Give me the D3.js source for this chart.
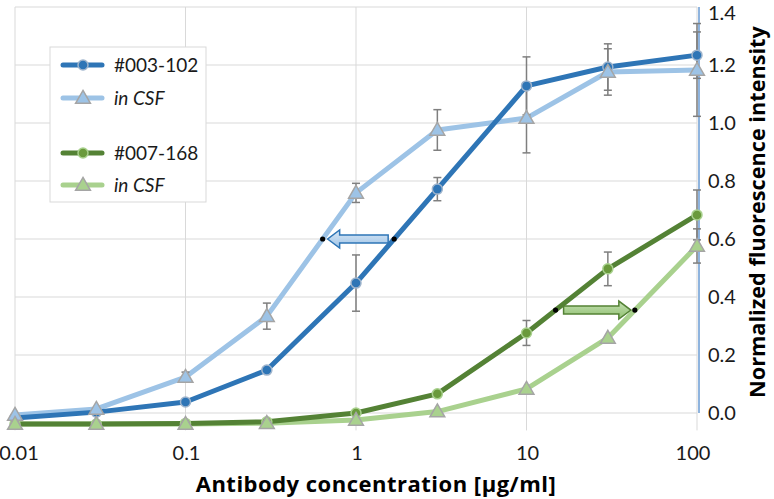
<!DOCTYPE html>
<html><head><meta charset="utf-8">
<script src="https://cdn.jsdelivr.net/npm/d3@7"></script>
<style>html,body{margin:0;padding:0;background:#fff;}svg{display:block;}</style>
</head><body><svg id="chart" width="774" height="499"></svg>
<script>
// ---- data ----
const concentrations = [0.01, 0.03, 0.1, 0.3, 1, 3, 10, 30, 100];
const ab003 = [-0.017, 0.003, 0.038, 0.148, 0.448, 0.772, 1.128, 1.193, 1.234];
const ab003Err = [0, 0, 0, 0, 0.097, 0.04, 0.1, 0.08, 0.08];
const ab003Csf = [-0.007, 0.014, 0.124, 0.334, 0.759, 0.976, 1.017, 1.176, 1.183];
const ab003CsfErr = [0, 0, 0.017, 0.045, 0.033, 0.07, 0.12, 0.08, 0.16];
const ab007 = [-0.038, -0.038, -0.036, -0.03, 0.0, 0.066, 0.276, 0.497, 0.683];
const ab007Err = [0, 0, 0, 0, 0, 0, 0.043, 0.058, 0.086];
const ab007Csf = [-0.038, -0.038, -0.038, -0.035, -0.024, 0.005, 0.083, 0.259, 0.576];
const ab007CsfErr = [0, 0, 0, 0, 0, 0, 0, 0, 0.059];
const seriesNames = ["#003-102", "in CSF", "#007-168", "in CSF"];
const xTicks = [0.01, 0.1, 1, 10, 100];
const xTickLabels = ["0.01", "0.1", "1", "10", "100"];
const yTicks = [0, 0.2, 0.4, 0.6, 0.8, 1.0, 1.2, 1.4];
const yTickLabels = ["0.0", "0.2", "0.4", "0.6", "0.8", "1.0", "1.2", "1.4"];
const halfLevels = [0.6, 0.355];
const xTitle = "Antibody concentration [µg/ml]";
const yTitle = "Normalized fluorescence intensity";

// ---- layout ----
const svg = d3.select("#chart");
const FONT = "Lato, 'Open Sans', sans-serif";
const TFONT = "'Open Sans', Lato, sans-serif";
const x = d3.scaleLog().domain([0.01, 100]).range([15, 697]);
const y = d3.scaleLinear().domain([0, 1.4]).range([413, 7]);
const yBottom = y(-0.06);

const series = [
  {name: seriesNames[1], vals: ab003Csf, err: ab003CsfErr, line: "#9dc3e6", fill: "#9dc3e6", stroke: "#a5a5a5", shape: "tri"},
  {name: seriesNames[0], vals: ab003, err: ab003Err, line: "#2e75b6", fill: "#2e75b6", stroke: "#9fb4cc", shape: "circ"},
  {name: seriesNames[3], vals: ab007Csf, err: ab007CsfErr, line: "#a9d18e", fill: "#a9d18e", stroke: "#a5a5a5", shape: "tri"},
  {name: seriesNames[2], vals: ab007, err: ab007Err, line: "#548235", fill: "#6a9a3c", stroke: "#a9d18e", shape: "circ"}
];

// gridlines
const grid = svg.append("g");
grid.selectAll("line.h").data(yTicks).join("line")
  .attr("x1", x(0.01)).attr("x2", x(100))
  .attr("y1", d => y(d)).attr("y2", d => y(d))
  .attr("stroke", "#d9d9d9").attr("stroke-width", 1);
grid.selectAll("line.v").data(xTicks).join("line")
  .attr("x1", d => x(d)).attr("x2", d => x(d))
  .attr("y1", y(1.4)).attr("y2", yBottom)
  .attr("stroke", "#d9d9d9").attr("stroke-width", 1);

// right axis line
svg.append("line").attr("x1", x(100) + 2).attr("x2", x(100) + 2)
  .attr("y1", y(1.4)).attr("y2", y(0))
  .attr("stroke", "#6a9bd3").attr("stroke-width", 1.5);

// lines
const lineGen = d3.line().x((d, i) => x(concentrations[i])).y(d => y(d));
const gLines = svg.append("g");
series.forEach(s => {
  gLines.append("path").attr("d", lineGen(s.vals)).attr("fill", "none")
    .attr("stroke", s.line).attr("stroke-width", 5).attr("stroke-linejoin", "round").attr("stroke-linecap", "round");
});

// error bars
const gErr = svg.append("g").attr("stroke", "#7f7f7f").attr("stroke-width", 1.5);
series.forEach(s => {
  s.vals.forEach((v, i) => {
    const e = s.err[i];
    if (!e) return;
    const cx = x(concentrations[i]);
    gErr.append("line").attr("x1", cx).attr("x2", cx).attr("y1", y(v + e)).attr("y2", y(v - e));
    gErr.append("line").attr("x1", cx - 4).attr("x2", cx + 4).attr("y1", y(v + e)).attr("y2", y(v + e));
    gErr.append("line").attr("x1", cx - 4).attr("x2", cx + 4).attr("y1", y(v - e)).attr("y2", y(v - e));
  });
});

// markers
const triPath = d3.symbol().type(d3.symbolTriangle).size(95)();
function drawMarker(g, s, cx, cy) {
  if (s.shape === "circ") {
    g.append("circle").attr("cx", cx).attr("cy", cy).attr("r", 5)
      .attr("fill", s.fill).attr("stroke", s.stroke).attr("stroke-width", 1.5);
  } else {
    g.append("path").attr("d", triPath).attr("transform", `translate(${cx},${cy + 1})`)
      .attr("fill", s.fill).attr("stroke", s.stroke).attr("stroke-width", 1.5);
  }
}
const gMark = svg.append("g");
[series[1], series[3], series[0], series[2]].forEach(s => {
  s.vals.forEach((v, i) => drawMarker(gMark, s, x(concentrations[i]), y(v)));
});

// crossing helper (log-x interpolation)
function crossX(vals, level) {
  for (let i = 0; i < vals.length - 1; i++) {
    const a = vals[i], b = vals[i + 1];
    if ((a - level) * (b - level) <= 0 && a !== b) {
      const t = (level - a) / (b - a);
      const la = Math.log10(concentrations[i]), lb = Math.log10(concentrations[i + 1]);
      return x(Math.pow(10, la + t * (lb - la)));
    }
  }
  return null;
}

// arrows
const defs = svg.append("defs");
const gb = defs.append("linearGradient").attr("id", "gBlue").attr("x1", 0).attr("y1", 0).attr("x2", 0).attr("y2", 1);
gb.append("stop").attr("offset", "0%").attr("stop-color", "#dbe8f6");
gb.append("stop").attr("offset", "100%").attr("stop-color", "#9dc3e6");
const gg = defs.append("linearGradient").attr("id", "gGreen").attr("x1", 0).attr("y1", 0).attr("x2", 0).attr("y2", 1);
gg.append("stop").attr("offset", "0%").attr("stop-color", "#c5e0b4");
gg.append("stop").attr("offset", "100%").attr("stop-color", "#8fc06f");

function arrow(xFrom, xTo, yy, fill, stroke) {
  const dir = xTo > xFrom ? 1 : -1;
  const hl = 12, bh = 4, hh = 9;
  const xb = xTo - dir * hl;
  const pts = [[xFrom, yy - bh], [xb, yy - bh], [xb, yy - hh], [xTo, yy], [xb, yy + hh], [xb, yy + bh], [xFrom, yy + bh]];
  svg.append("path").attr("d", "M" + pts.map(p => p.join(",")).join("L") + "Z")
    .attr("fill", fill).attr("stroke", stroke).attr("stroke-width", 1.5).attr("stroke-linejoin", "miter");
}
function dot(cx, cy) {
  svg.append("circle").attr("cx", cx).attr("cy", cy).attr("r", 2.6).attr("fill", "#000");
}
{
  const lv = halfLevels[0];
  const xr = crossX(ab003, lv), xl = crossX(ab003Csf, lv);
  arrow(xr - 6, xl + 5, y(lv), "url(#gBlue)", "#2e75b6");
  dot(xr, y(lv)); dot(xl, y(lv));
}
{
  const lv = halfLevels[1];
  const xl = crossX(ab007, lv), xr = crossX(ab007Csf, lv);
  arrow(xl + 8, xr - 4, y(lv), "url(#gGreen)", "#548235");
  dot(xl, y(lv)); dot(xr, y(lv));
}

// right axis labels
svg.append("g").selectAll("text").data(yTicks).join("text")
  .attr("x", x(100) + 11).attr("y", d => Math.max(y(d) + 7, 20))
  .attr("font-family", FONT).attr("font-size", 20).attr("fill", "#1a1a1a")
  .text((d, i) => yTickLabels[i]);

// bottom axis labels
svg.append("g").selectAll("text").data(xTicks).join("text")
  .attr("x", (d, i) => x(d) + (i === 0 ? 4 : (i === xTicks.length - 1 ? -4 : 1))).attr("y", 460)
  .attr("text-anchor", "middle")
  .attr("font-family", FONT).attr("font-size", 20).attr("fill", "#1a1a1a")
  .text((d, i) => xTickLabels[i]);

// axis titles
svg.append("text").attr("x", 376).attr("y", 492).attr("text-anchor", "middle")
  .attr("font-family", TFONT).attr("font-weight", "bold").attr("font-size", 22)
  .attr("letter-spacing", 0.5).attr("fill", "#000")
  .text(xTitle);
svg.append("text").attr("transform", "translate(765,212) rotate(-90)").attr("text-anchor", "middle")
  .attr("font-family", TFONT).attr("font-weight", "bold").attr("font-size", 21.7).attr("fill", "#000")
  .text(yTitle);

// legend
const leg = svg.append("g");
leg.append("rect").attr("x", 50).attr("y", 47).attr("width", 156).attr("height", 155)
  .attr("fill", "#fff").attr("stroke", "#d9d9d9").attr("stroke-width", 1);
const legendOrder = [series[1], series[0], series[3], series[2]];
const legY = [65, 98, 153, 185];
legendOrder.forEach((s, i) => {
  const yy = legY[i];
  leg.append("line").attr("x1", 63).attr("x2", 102).attr("y1", yy).attr("y2", yy)
    .attr("stroke", s.line).attr("stroke-width", 5).attr("stroke-linecap", "round");
  drawMarker(leg, s, 83, yy);
  leg.append("text").attr("x", 114).attr("y", yy + 7)
    .attr("font-family", FONT).attr("font-size", 19).attr("fill", "#1a1a1a")
    .attr("font-style", s.shape === "tri" ? "italic" : "normal")
    .text(s.name);
});
</script>
</body></html>
